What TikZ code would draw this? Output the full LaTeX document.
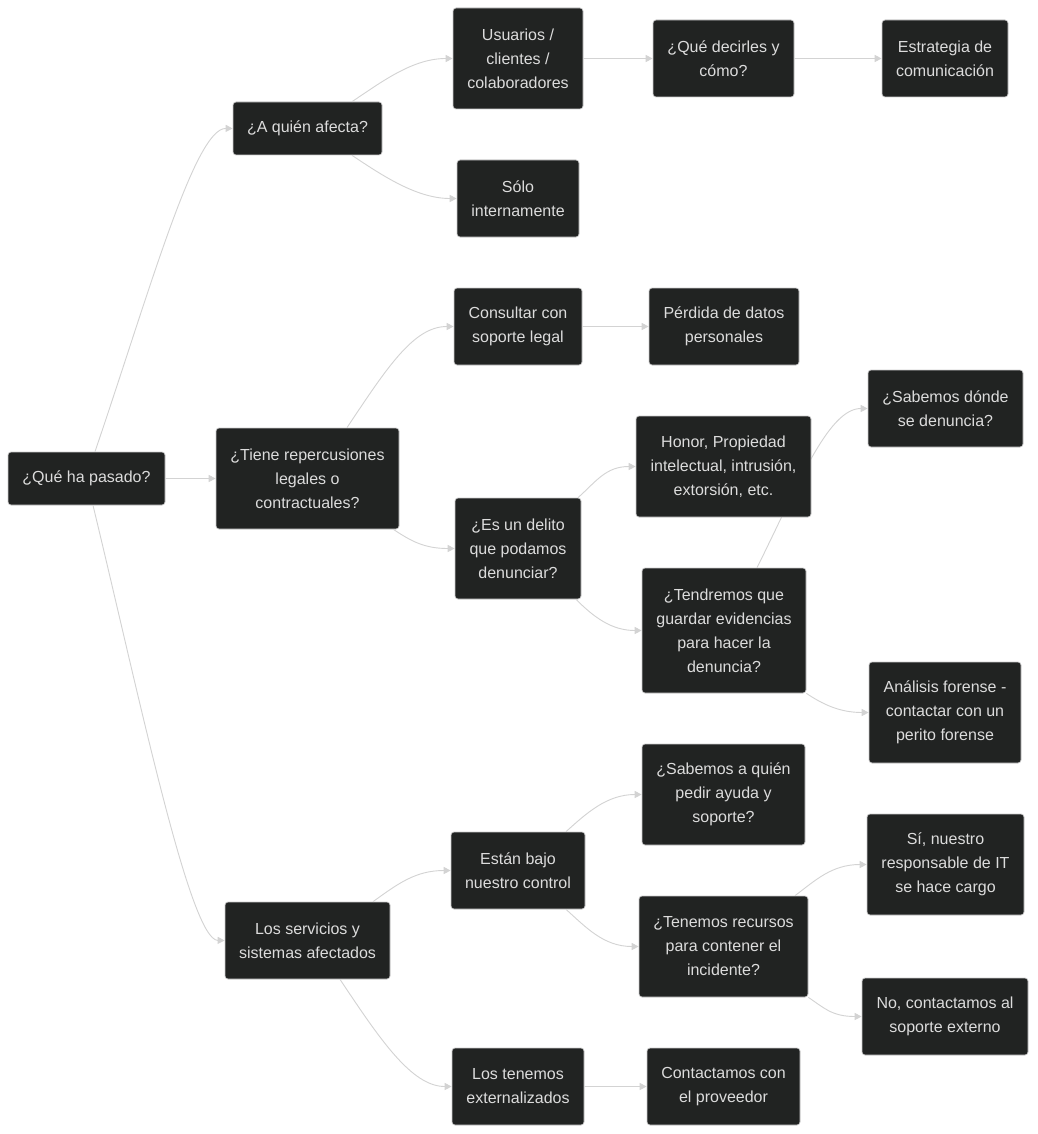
\documentclass[tikz,border=0pt]{standalone}
\usepackage{fontspec}
\setmainfont{Liberation Sans}
\usetikzlibrary{arrows.meta}
\definecolor{boxfill}{HTML}{212322}
\definecolor{boxline}{HTML}{CCCCCC}
\definecolor{txt}{HTML}{DCDCDC}
\definecolor{edgec}{HTML}{D3D3D3}
\begin{document}
\begin{tikzpicture}[x=1pt,y=-1pt,
  box/.style 2 args={draw=boxline, line width=0.7pt, fill=boxfill, rounded corners=3pt,
    text=txt, align=center, inner sep=0pt, minimum width=#1pt, minimum height=#2pt,
    font=\fontsize{16}{24}\selectfont},
  edge/.style={draw=edgec, line width=0.9pt, -{Triangle[length=7pt,width=7pt]}}]
\useasboundingbox[fill=white] (0,0) rectangle (1037,1134);

% edges first (nodes drawn on top)
\coordinate (q1) at (95,452);
\coordinate (q2) at (93,505);
\coordinate (tgtop) at (757,568);

\node[box={157}{53}] (Q) at (86.5,478.5) {¿Qué ha pasado?};
\node[box={149}{53}] (A) at (307.5,128.5) {¿A quién afecta?};
\node[box={183}{101}] (T) at (307.5,478.5) {¿Tiene repercusiones\\legales o\\contractuales?};
\node[box={165}{77}] (S) at (307.5,940.5) {Los servicios y\\sistemas afectados};
\node[box={130}{101}] (U) at (518,58.5) {Usuarios /\\clientes /\\colaboradores};
\node[box={122}{77}] (SI) at (518,198.5) {Sólo\\internamente};
\node[box={128}{77}] (C) at (518,326.5) {Consultar con\\soporte legal};
\node[box={126}{101}] (D) at (518,548.5) {¿Es un delito\\que podamos\\denunciar?};
\node[box={134}{77}] (E) at (518,870.5) {Están bajo\\nuestro control};
\node[box={132}{77}] (L) at (518,1086.5) {Los tenemos\\externalizados};
\node[box={141}{77}] (QD) at (723.5,58.5) {¿Qué decirles y\\cómo?};
\node[box={150}{77}] (P) at (724,326.5) {Pérdida de datos\\personales};
\node[box={164}{125}] (TG) at (724,630.5) {¿Tendremos que\\guardar evidencias\\para hacer la\\denuncia?};
\node[box={163}{101}] (SA) at (723.5,794.5) {¿Sabemos a quién\\pedir ayuda y\\soporte?};
\node[box={169}{101}] (TR) at (723.5,946.5) {¿Tenemos recursos\\para contener el\\incidente?};
\node[box={153}{77}] (CP) at (723.5,1086.5) {Contactamos con\\el proveedor};
\node[box={126}{77}] (EC) at (945,58.5) {Estrategia de\\comunicación};
\node[box={155}{77}] (SD) at (945.5,408.5) {¿Sabemos dónde\\se denuncia?};
\node[box={152}{101}] (AF) at (945,712.5) {Análisis forense -\\contactar con un\\perito forense};
\node[box={157}{101}] (SN) at (945.5,864.5) {Sí, nuestro\\responsable de IT\\se hace cargo};
\node[box={166}{77}] (NO) at (945,1016.5) {No, contactamos al\\soporte externo};

% edge passing behind the Honor node
\begin{scope}[on background layer/.try]
\end{scope}
\draw[edge] ([xshift=33pt]TG.north) .. controls +(40,-80) and +(-40,0) .. (SD.west);

\node[box={175}{101}] (H) at (723.5,466.5) {Honor, Propiedad\\intelectual, intrusión,\\extorsión, etc.};

\draw[edge] ([xshift=8.5pt]Q.north) .. controls (150,290) and (195,128) .. (A.west);
\draw[edge] (Q.east) -- (T.west);
\draw[edge] ([xshift=6.5pt]Q.south) .. controls (140,700) and (190,940) .. (S.west);

\draw[edge] ([xshift=44.5pt]A.north) .. controls +(30,-20) and +(-40,0) .. (U.west);
\draw[edge] ([xshift=44.5pt]A.south) .. controls +(30,20) and +(-40,0) .. (SI.west);
\draw[edge] (U.east) -- (QD.west);
\draw[edge] (QD.east) -- (EC.west);

\draw[edge] ([xshift=39.5pt]T.north) .. controls +(40,-60) and +(-40,0) .. (C.west);
\draw[edge] ([xshift=-6pt]T.south east) .. controls +(18,12) and +(-30,0) .. (D.west);
\draw[edge] (C.east) -- (P.west);

\draw[edge] ([xshift=60pt]D.north) .. controls +(18,-16) and +(-30,0) .. (H.west);
\draw[edge] ([xshift=58pt]D.south) .. controls +(18,18) and +(-30,0) .. (TG.west);
\draw[edge] (TG.south east) .. controls +(15,10) and +(-30,0) .. (AF.west);

\draw[edge] ([xshift=65.5pt]S.north) .. controls +(25,-18) and +(-35,0) .. (E.west);
\draw[edge] ([xshift=32.5pt]S.south) .. controls +(40,60) and +(-40,0) .. (L.west);
\draw[edge] (L.east) -- (CP.west);

\draw[edge] ([xshift=48pt]E.north) .. controls +(20,-18) and +(-35,0) .. (SA.west);
\draw[edge] ([xshift=48pt]E.south) .. controls +(20,18) and +(-35,0) .. (TR.west);
\draw[edge] ([xshift=71.5pt]TR.north) .. controls +(20,-15) and +(-35,0) .. (SN.west);
\draw[edge] (TR.south east) .. controls +(15,10) and +(-30,0) .. (NO.west);
\end{tikzpicture}
\end{document}
